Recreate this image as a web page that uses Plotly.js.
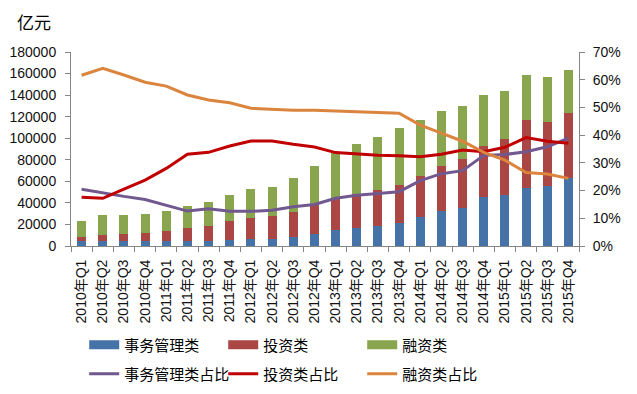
<!DOCTYPE html>
<html><head><meta charset="utf-8">
<script src="https://cdn.plot.ly/plotly-3.0.1.min.js"></script>
<style>html,body{margin:0;padding:0;background:#fff}#c{width:637px;height:394px}</style>
</head><body><div id="c"></div>
<script>
const categories = ['2010年Q1','2010年Q2','2010年Q3','2010年Q4','2011年Q1','2011年Q2','2011年Q3','2011年Q4','2012年Q1','2012年Q2','2012年Q3','2012年Q4','2013年Q1','2013年Q2','2013年Q3','2013年Q4','2014年Q1','2014年Q2','2014年Q3','2014年Q4','2015年Q1','2015年Q2','2015年Q3','2015年Q4'];
const affairs = [4600,4600,4600,4600,4600,4700,4600,5600,6500,6500,8800,11100,15000,17000,18800,21300,26900,32500,35600,45800,47300,54100,56000,63400];
const invest = [4000,5300,6200,7200,8900,12100,14000,17500,19800,21000,22900,26700,29900,31200,33200,35500,38300,41600,44700,47200,51700,62500,59200,60200];
const finance = [14400,18900,18000,17900,19000,20300,22200,24200,26600,27200,31400,36400,42000,46400,49100,52700,51700,51200,49600,47400,44800,42100,41600,39700];
const affairsPct = [20.5,19.1,17.9,16.8,14.8,12.6,13.4,12.5,12.5,12.9,14.2,15.0,17.2,18.3,18.9,19.6,23.6,26.1,27.2,32.7,33.0,34.0,35.8,38.9];
const investPct = [17.6,17.2,20.5,23.8,28.0,33.1,33.8,36.1,37.9,37.9,36.7,35.7,33.7,33.1,32.7,32.6,32.2,33.1,34.6,34.0,35.6,39.1,37.8,37.1];
const financePct = [61.6,64.1,61.7,59.1,57.7,54.5,52.7,51.7,49.7,49.3,49.0,49.0,48.8,48.6,48.2,47.9,43.6,40.7,37.8,33.8,31.0,26.5,26.0,24.4];
const names = ['事务管理类','投资类','融资类','事务管理类占比','投资类占比','融资类占比'];
const barColors = ['#4572A7','#AA4643','#89A54E'];
const lineColors = ['#71588F','#C00000','#DB843D'];

const F = 'Liberation Sans, Arial, sans-serif';
const CJK = 'Noto Sans CJK SC, Liberation Sans, sans-serif';
const XF = 'Liberation Sans, Noto Sans CJK SC, sans-serif';
const axisCol = '#868686';

const barData = [affairs, invest, finance];
const pctData = [affairsPct, investPct, financePct];
const traces = [];
barData.forEach((vals, i) => traces.push({type:'bar', x:categories, y:vals, name:names[i], marker:{color:barColors[i]}, showlegend:false}));
// legend-only entries for the bars (wide rectangle keys like the original)
barData.forEach((vals, i) => traces.push({type:'scatter', mode:'lines', x:[null], y:[null], name:names[i], line:{color:barColors[i], width:9}, legend:'legend'}));
pctData.forEach((vals, i) => traces.push({type:'scatter', mode:'lines', x:categories, y:vals.map(v=>v/100), yaxis:'y2', name:names[i+3], line:{color:lineColors[i], width:3}, legend:'legend2'}));

const legendBase = {orientation:'h', xanchor:'left', yanchor:'middle', traceorder:'normal', entrywidth:94,
  font:{family:CJK, size:15, color:'#000'}, bgcolor:'rgba(0,0,0,0)', itemwidth:30, tracegroupgap:0};

const layout = {
  width:637, height:394,
  margin:{l:71, r:58, t:52, b:148, pad:0, autoexpand:false},
  paper_bgcolor:'#fff', plot_bgcolor:'#fff',
  barmode:'stack', bargap:0.57,
  hovermode:false,
  title:{text:'亿元', x:17/637, xanchor:'left', xref:'container', y:1-23/394, yanchor:'middle', yref:'container', font:{family:CJK, size:17, color:'#000'}},
  xaxis:{type:'category', showline:true, linecolor:axisCol, linewidth:1, ticks:'outside', tickson:'boundaries', ticklen:5, tickcolor:axisCol,
    tickangle:-90, ticklabelstandoff:7, tickfont:{family:XF, size:14, color:'#111'}, showgrid:false, zeroline:false, automargin:false},
  yaxis:{range:[0,180000], dtick:20000, tickformat:'d', showline:true, linecolor:axisCol, linewidth:1, ticks:'outside', ticklen:5, tickcolor:axisCol,
    ticklabelstandoff:6, tickfont:{family:F, size:14, color:'#111'}, showgrid:false, zeroline:false, automargin:false},
  yaxis2:{range:[0,0.7], dtick:0.1, tickformat:'.0%', overlaying:'y', side:'right', showline:true, linecolor:axisCol, linewidth:1, ticks:'outside', ticklen:5, tickcolor:axisCol,
    ticklabelstandoff:5, tickfont:{family:F, size:14, color:'#111'}, showgrid:false, zeroline:false, automargin:false},
  legend:Object.assign({}, legendBase, {x:0.026, y:-0.51}),
  legend2:Object.assign({}, legendBase, {x:0.026, y:-0.66}),
  showlegend:true
};

Plotly.newPlot('c', traces, layout, {displayModeBar:false, staticPlot:true});
</script>
</body></html>
